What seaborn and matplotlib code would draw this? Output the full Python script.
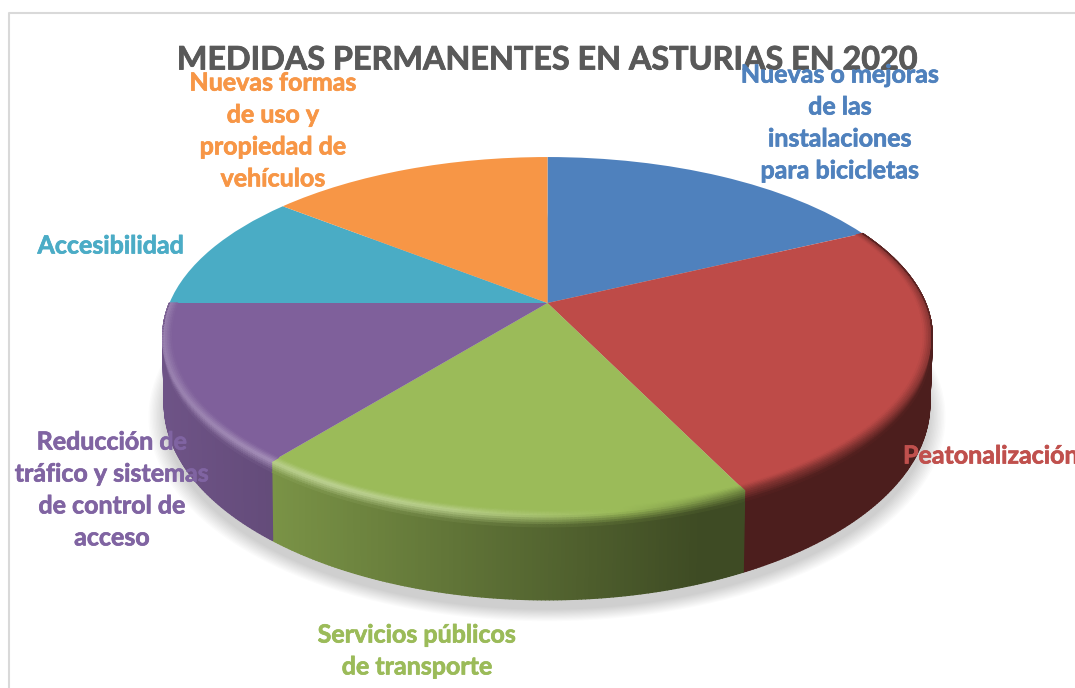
import numpy as np
import seaborn as sns
import matplotlib
matplotlib.use("Agg")
import matplotlib.pyplot as plt
import matplotlib.patheffects as pe
from matplotlib.collections import PolyCollection
from matplotlib.transforms import Transform

title = "MEDIDAS PERMANENTES EN ASTURIAS EN 2020"
categories = [
    "Nuevas o mejoras\nde las\ninstalaciones\npara bicicletas",
    "Peatonalización",
    "Servicios públicos\nde transporte",
    "Reducción de\ntráfico y sistemas\nde control de\nacceso",
    "Accesibilidad",
    "Nuevas formas\nde uso y\npropiedad de\nvehículos",
]
values = [5, 7, 5, 4, 3, 4]
colors_hex = ["#4F81BD", "#BE4B48", "#9BBB59", "#7F609B", "#4AACC5", "#F79646"]
label_colors = ["#4F81BD", "#C0504D", "#9BBB59", "#8064A2", "#4BACC6", "#F79646"]

sns.set_theme(style="white")
plt.rcParams["font.family"] = ["Lato", "DejaVu Sans"]
palette = sns.color_palette(colors_hex)


class Persp(Transform):
    # unit circle of the pie -> picture pixels, seen in perspective
    input_dims = 2
    output_dims = 2

    def __init__(self, cx, cy, dx, dy, c):
        super().__init__()
        self.cx, self.cy, self.dx, self.dy, self.c = cx, cy, dx, dy, c

    def transform_non_affine(self, xy):
        xy = np.asarray(xy, dtype=float)
        w = 1 + self.c * xy[:, 1]
        return np.column_stack([self.cx + self.dx * xy[:, 0] / w, self.cy - self.dy * xy[:, 1] / w])


top = Persp(547.5, 303, 378, 173.2, 0.1866)
bottom = Persp(547, 367.4, 376, 189, 0.1866)


def on_circle(deg, r=1.0):
    t = np.radians(deg)
    return np.column_stack([r * np.cos(t), r * np.sin(t)])


def blend(a, b, k):
    return tuple(np.array(a) * (1 - k) + np.array(b) * k)


def side_shade(x):
    return np.interp(x, [160, 280, 700, 940], [0.87, 0.78, 0.40, 0.40])


def rim_light(x):
    return np.interp(x, [162, 330, 450, 620], [0.22, 0.36, 0.30, 0.0])


def rim_dark(x):
    return np.interp(x, [620, 760], [0.0, 0.5])


fig = plt.figure(figsize=(10.75, 6.88), dpi=100)
ax = fig.add_axes([0, 0, 1, 1])

wedges, _ = ax.pie(values, startangle=90, counterclock=False, colors=palette,
                   wedgeprops={"linewidth": 0})
ax.set(xlim=(0, 1075), ylim=(688, 0), aspect="auto")
ax.axis("off")
for w in wedges:
    w.set_transform(top + ax.transData)
    w.set_zorder(3)

# soft shadow under the pie
ring = np.arange(0, 360, 2.0)
for k in np.linspace(0, 1, 12):
    pts = bottom.transform(on_circle(ring, 1.0 + 0.04 * (1 - k)))
    pts[:, 1] += 10
    ax.fill(pts[:, 0], pts[:, 1], color="#000000", alpha=0.016, lw=0, zorder=1)

edges = 90 - 360 * np.cumsum([0] + values) / sum(values)

for i, col in enumerate(palette):
    hi = edges[i]
    lo = edges[i + 1]
    if lo >= 25 or lo < -181:
        continue
    th = np.linspace(lo, hi, int((hi - lo) * 2) + 2)
    a = top.transform(on_circle(th))
    b = bottom.transform(on_circle(th))
    wall_part = np.clip((-np.sin(np.radians(th)) - 0.1) / 0.3, 0, 1)

    # outer wall
    polys, cols = [], []
    for j in range(len(th) - 1):
        polys.append([a[j], a[j + 1], b[j + 1], b[j]])
        cols.append(tuple(np.array(col) * side_shade(a[j, 0])))
    ax.add_collection(PolyCollection(polys, facecolors=cols, edgecolors="face", linewidths=1.0, zorder=2))

    # rounded bevel between top and wall
    polys, cols = [], []
    layers = np.linspace(-1, 1, 11)
    for j in range(len(th) - 1):
        x = a[j, 0]
        side = tuple(np.array(col) * side_shade(x))
        rim = blend(blend(col, (1, 1, 1), rim_light(x)), side, rim_dark(x))
        for s0, s1 in zip(layers[:-1], layers[1:]):
            quad = []
            for s, jj in ((s0, j), (s0, j + 1), (s1, j + 1), (s1, j)):
                if s < 0:
                    quad.append(top.transform(on_circle(th[jj:jj + 1], 1 + 0.022 * s))[0])
                else:
                    quad.append(a[jj] + (b[jj] - a[jj]) * 0.13 * s * wall_part[jj])
            polys.append(quad)
            sm = (s0 + s1) / 2
            cols.append(blend(col, rim, 1 + sm) if sm < 0 else blend(rim, side, sm))
    ax.add_collection(PolyCollection(polys, facecolors=cols, edgecolors="face", linewidths=0.8, zorder=4))

# chart frame
ax.plot([8.5, 8.5, 1075], [688, 12.5, 12.5], color="#D9D9D9", lw=1.5, zorder=0)

ax.text(547.5, 60, title, fontsize=23.3, fontweight="bold", color="#595959", ha="center", va="center",
        zorder=5, path_effects=[pe.withStroke(linewidth=0.6, foreground="#595959")])

label_xy = [(840, 123), (903, 456), (417, 651), (112, 490), (111, 246), (273, 131)]
label_ha = ["center", "left", "center", "center", "center", "center"]
for txt, (x, y), ha, col in zip(categories, label_xy, label_ha, label_colors):
    ax.text(x, y, txt, fontsize=18, fontweight="bold", color=col, ha=ha, va="center",
            multialignment="center", linespacing=1.47, zorder=6,
            path_effects=[pe.withStroke(linewidth=0.5, foreground=col)])

fig.savefig("out.png", dpi=100)
